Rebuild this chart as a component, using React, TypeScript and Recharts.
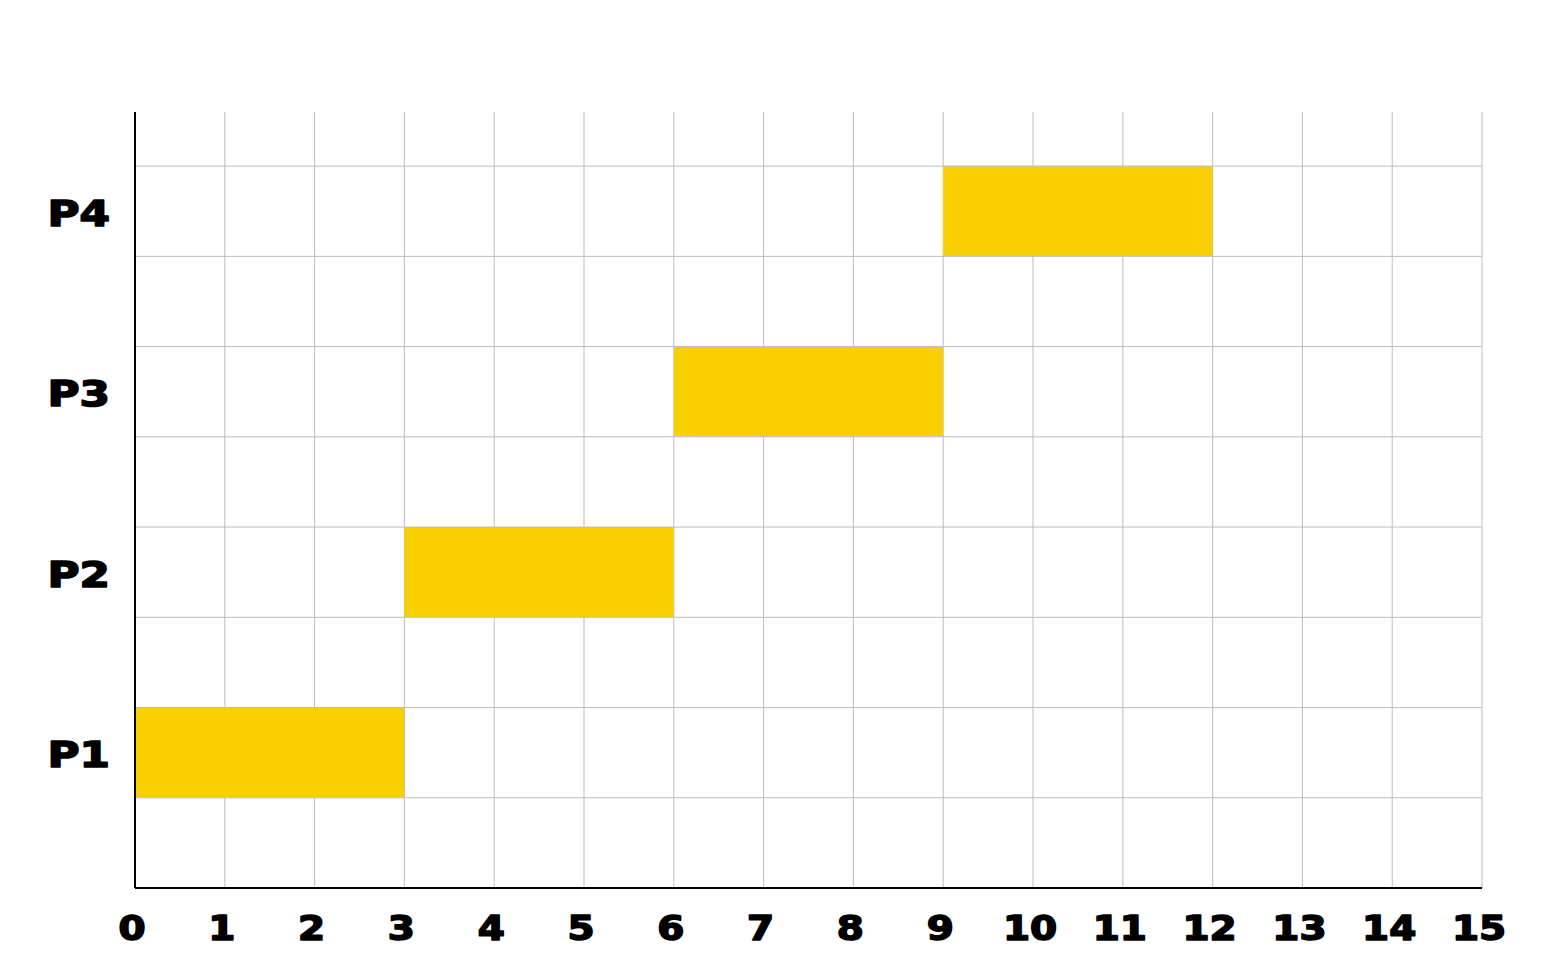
import React from "react";
import {
  ComposedChart,
  Bar,
  XAxis,
  YAxis,
  CartesianGrid,
  ReferenceLine,
} from "recharts";

const processes = ["P1", "P2", "P3", "P4"];
const starts = [0, 3, 6, 9];
const ends = [3, 6, 9, 12];
const rows = [1.5, 3.5, 5.5, 7.5];
const xTicks = [0, 1, 2, 3, 4, 5, 6, 7, 8, 9, 10, 11, 12, 13, 14, 15];
const gridRows = [1, 2, 3, 4, 5, 6, 7, 8];

const data = processes.map((name, i) => ({
  name,
  range: [starts[i], ends[i]],
  row: rows[i],
}));

const labelByRow: Record<number, string> = {};
rows.forEach((r, i) => (labelByRow[r] = processes[i]));

const FONT = "'DejaVu Sans', sans-serif";

const XTick = (props: any) => {
  const { x, y, payload } = props;
  return (
    <g transform={`translate(${x - 3},${y}) scale(1.18,1)`}>
      <text
        x={0}
        y={44}
        textAnchor="middle"
        fontFamily={FONT}
        fontWeight="bold"
        fontSize={33}
        fill="#000"
        stroke="#000"
        strokeWidth={1.6}
        strokeLinejoin="round"
      >
        {payload.value}
      </text>
    </g>
  );
};

const YTick = (props: any) => {
  const { x, y, payload } = props;
  return (
    <g transform={`translate(${x - 17},${y + 2}) scale(1.25,1)`}>
      <text
        x={0}
        y={0}
        dy="0.36em"
        textAnchor="end"
        fontFamily={FONT}
        fontWeight="bold"
        fontSize={35}
        fill="#000"
        stroke="#000"
        strokeWidth={1.6}
        strokeLinejoin="round"
      >
        {labelByRow[payload.value]}
      </text>
    </g>
  );
};

export default function App() {
  return (
    <ComposedChart
      width={1540}
      height={950}
      data={data}
      layout="vertical"
      margin={{ top: 104, right: 66, left: 0, bottom: 0 }}
    >
      <CartesianGrid vertical={true} horizontal={false} stroke="#bdbdbd" />
      {gridRows.map((v) => (
        <ReferenceLine key={v} y={v} stroke="#bdbdbd" strokeWidth={1} />
      ))}
      <XAxis
        type="number"
        domain={[0, 15]}
        ticks={xTicks}
        allowDataOverflow
        tickLine={false}
        axisLine={{ stroke: "#000", strokeWidth: 2 }}
        tick={<XTick />}
        height={70}
        interval={0}
      />
      <YAxis
        type="number"
        dataKey="row"
        domain={[0, 8.6]}
        ticks={rows}
        reversed
        allowDataOverflow
        tickLine={false}
        axisLine={{ stroke: "#000", strokeWidth: 2 }}
        tick={<YTick />}
        width={127}
        interval={0}
      />
      <Bar
        dataKey="range"
        fill="#F8CF00"
        barSize={90}
        isAnimationActive={false}
      />
    </ComposedChart>
  );
}
